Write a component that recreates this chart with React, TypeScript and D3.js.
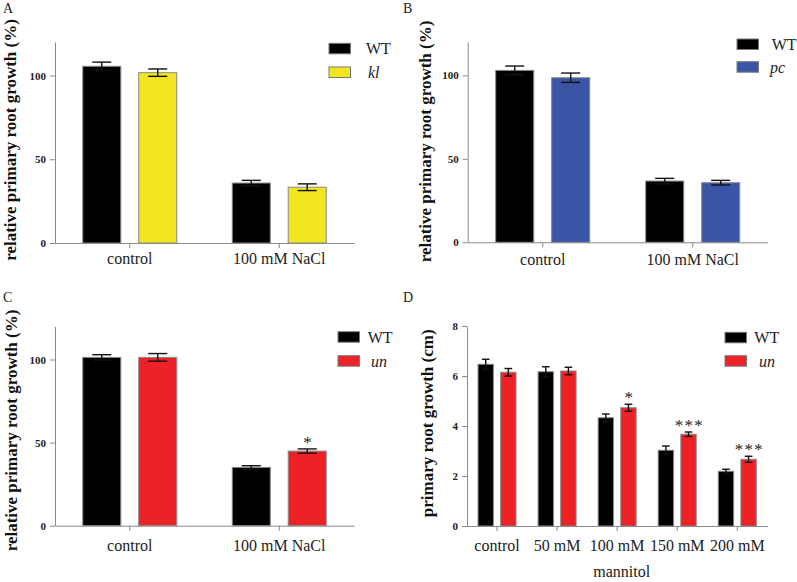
import React, { useEffect, useRef } from "react";
import * as d3 from "d3";

// ---------- data ----------
const NACL_CATS = ["control", "100 mM NaCl"];
const MANNITOL_CATS = ["control", "50 mM", "100 mM", "150 mM", "200 mM"];
const PCT_TICKS = [0, 50, 100];
const CM_TICKS = [0, 2, 4, 6, 8];

const A_WT = [105.5, 35.8];
const A_WT_ERR = [2.5, 1.6];
const A_KL = [101.7, 33.3];
const A_KL_ERR = [2.2, 2.0];

const B_WT = [103.0, 36.7];
const B_WT_ERR = [2.6, 1.6];
const B_PC = [98.6, 35.7];
const B_PC_ERR = [2.8, 1.4];

const C_WT = [101.3, 35.1];
const C_WT_ERR = [1.6, 1.0];
const C_UN = [101.3, 44.9];
const C_UN_ERR = [2.3, 1.3];
const C_UN_SIG = ["", "*"];

const D_WT = [6.47, 6.17, 4.33, 3.03, 2.19];
const D_WT_ERR = [0.2, 0.2, 0.15, 0.17, 0.08];
const D_UN = [6.15, 6.2, 4.73, 3.67, 2.67];
const D_UN_ERR = [0.15, 0.15, 0.14, 0.09, 0.12];
const D_UN_SIG = ["", "", "*", "***", "***"];

const BLACK = "#000000";
const YELLOW = "#F2E71E";
const BLUE = "#3A55A5";
const RED = "#EC2227";
const FONT = "Liberation Serif, Tinos, Times New Roman, DejaVu Serif, serif";

type Series = { name: string; italic?: boolean; values: number[]; err: number[]; color: string; sig?: string[] };
type Panel = {
  letter: string; letterX: number; letterY: number;
  cats: string[]; series: Series[]; ymax: number; ticks: number[];
  left: number; right: number; top: number; bottom: number; half: number;
  ylabel: string; ylabelX: number; ylabelY: number;
  catPad: number; xtitle?: string; xtitleX?: number; xtitleY?: number;
  legX: number; legY: number[]; legTextX: number[];
};

const PANELS: Panel[] = [
  {
    letter: "A", letterX: 3, letterY: 13.3,
    cats: NACL_CATS,
    series: [
      { name: "WT", values: A_WT, err: A_WT_ERR, color: BLACK },
      { name: "kl", italic: true, values: A_KL, err: A_KL_ERR, color: YELLOW },
    ],
    ymax: 120, ticks: PCT_TICKS,
    left: 55, right: 354, top: 42, bottom: 243, half: 47,
    ylabel: "relative primary root growth (%)", ylabelX: 16, ylabelY: 140,
    catPad: 5,
    legX: 329, legY: [43.3, 67], legTextX: [366, 368],
  },
  {
    letter: "B", letterX: 403, letterY: 13.3,
    cats: NACL_CATS,
    series: [
      { name: "WT", values: B_WT, err: B_WT_ERR, color: BLACK },
      { name: "pc", italic: true, values: B_PC, err: B_PC_ERR, color: BLUE },
    ],
    ymax: 120, ticks: PCT_TICKS,
    left: 467.7, right: 767.7, top: 42, bottom: 242.3, half: 47,
    ylabel: "relative primary root growth (%)", ylabelX: 431, ylabelY: 141.5,
    catPad: 6,
    legX: 737, legY: [39, 61.7], legTextX: [771.7, 770],
  },
  {
    letter: "C", letterX: 3, letterY: 301.5,
    cats: NACL_CATS,
    series: [
      { name: "WT", values: C_WT, err: C_WT_ERR, color: BLACK },
      { name: "un", italic: true, values: C_UN, err: C_UN_ERR, color: RED, sig: C_UN_SIG },
    ],
    ymax: 120, ticks: PCT_TICKS,
    left: 55, right: 354, top: 326.3, bottom: 525.7, half: 47,
    ylabel: "relative primary root growth (%)", ylabelX: 17, ylabelY: 430.5,
    catPad: 9,
    legX: 338, legY: [331.7, 355.7], legTextX: [367.7, 371],
  },
  {
    letter: "D", letterX: 403, letterY: 301.5,
    cats: MANNITOL_CATS,
    series: [
      { name: "WT", values: D_WT, err: D_WT_ERR, color: BLACK },
      { name: "un", italic: true, values: D_UN, err: D_UN_ERR, color: RED, sig: D_UN_SIG },
    ],
    ymax: 8, ticks: CM_TICKS,
    left: 467, right: 767.3, top: 326, bottom: 526, half: 19,
    ylabel: "primary root growth (cm)", ylabelX: 433, ylabelY: 423.3,
    catPad: 9, xtitle: "mannitol", xtitleX: 621.7, xtitleY: 576.7,
    legX: 725, legY: [332.3, 355.7], legTextX: [754.3, 759],
  },
];

function drawPanel(svg: d3.Selection<SVGSVGElement, unknown, null, undefined>, p: Panel) {
  const g = svg.append("g");
  const y = d3.scaleLinear().domain([0, p.ymax]).range([p.bottom, p.top]);
  const x0 = d3.scaleBand<string>().domain(p.cats).range([p.left, p.right]).padding(0);
  const x1 = d3
    .scaleBand<string>()
    .domain(p.series.map((s) => s.name))
    .range([-p.half, p.half])
    .paddingInner(0.32);
  const bw = x1.bandwidth();

  // bars
  p.series.forEach((s) => {
    const bars = g.append("g");
    bars
      .selectAll("rect")
      .data(p.cats)
      .join("rect")
      .attr("x", (c) => x0(c)! + x0.bandwidth() / 2 + x1(s.name)!)
      .attr("y", (_c, i) => y(s.values[i]))
      .attr("width", bw)
      .attr("height", (_c, i) => y(0) - y(s.values[i]))
      .attr("fill", s.color)
      .attr("stroke", "#8a8a8a")
      .attr("stroke-width", 1);
  });

  // error bars
  p.series.forEach((s) => {
    const eg = g.append("g").attr("stroke", "#111").attr("stroke-width", 1.4).attr("fill", "none");
    p.cats.forEach((c, i) => {
      const cx = x0(c)! + x0.bandwidth() / 2 + x1(s.name)! + bw / 2;
      const hi = y(s.values[i] + s.err[i]);
      const lo = y(s.values[i] - s.err[i]);
      const cw = bw / 4;
      eg.append("line").attr("x1", cx).attr("x2", cx).attr("y1", hi).attr("y2", lo);
      eg.append("line").attr("x1", cx - cw).attr("x2", cx + cw).attr("y1", hi).attr("y2", hi);
      eg.append("line").attr("x1", cx - cw).attr("x2", cx + cw).attr("y1", lo).attr("y2", lo);
      if (s.sig && s.sig[i]) {
        g.append("text")
          .attr("x", cx + 0.8)
          .attr("y", hi - 1)
          .attr("text-anchor", "middle")
          .attr("font-family", FONT)
          .attr("font-size", 17)
          .attr("letter-spacing", 1.2)
          .attr("fill", "#222")
          .text(s.sig[i]);
      }
    });
  });

  // y axis
  const ya = g
    .append("g")
    .attr("transform", `translate(${p.left},0)`)
    .call(d3.axisLeft(y).tickValues(p.ticks).tickSize(5).tickPadding(4).tickSizeOuter(0));
  ya.attr("font-family", FONT);
  ya.select(".domain").attr("stroke", "#8a8a8a");
  ya.selectAll(".tick line").attr("stroke", "#8a8a8a");
  ya.selectAll(".tick text")
    .attr("font-family", FONT)
    .attr("font-size", 11)
    .attr("font-weight", "bold")
    .attr("fill", "#222");

  // x axis
  const xa = g
    .append("g")
    .attr("transform", `translate(0,${p.bottom})`)
    .call(d3.axisBottom(x0).tickSize(5).tickPadding(p.catPad).tickSizeOuter(0));
  xa.attr("font-family", FONT);
  xa.select(".domain").attr("stroke", "#8a8a8a");
  xa.selectAll(".tick line").attr("stroke", "#8a8a8a");
  xa.selectAll(".tick text")
    .attr("font-family", FONT)
    .attr("font-size", 16)
    .attr("fill", "#222");

  // y label
  g.append("text")
    .attr("transform", `translate(${p.ylabelX},${p.ylabelY}) rotate(-90)`)
    .attr("text-anchor", "middle")
    .attr("font-family", FONT)
    .attr("font-size", 17)
    .attr("font-weight", "bold")
    .attr("fill", "#111")
    .text(p.ylabel);

  if (p.xtitle) {
    g.append("text")
      .attr("x", p.xtitleX!)
      .attr("y", p.xtitleY!)
      .attr("text-anchor", "middle")
      .attr("font-family", FONT)
      .attr("font-size", 16)
      .attr("fill", "#222")
      .text(p.xtitle);
  }

  // panel letter
  g.append("text")
    .attr("x", p.letterX)
    .attr("y", p.letterY)
    .attr("font-family", FONT)
    .attr("font-size", 14)
    .attr("fill", "#222")
    .text(p.letter);

  // legend
  p.series.forEach((s, i) => {
    g.append("rect")
      .attr("x", p.legX)
      .attr("y", p.legY[i])
      .attr("width", 21.5)
      .attr("height", 10.5)
      .attr("fill", s.color)
      .attr("stroke", "#7a7a7a")
      .attr("stroke-width", 1);
    g.append("text")
      .attr("x", p.legTextX[i])
      .attr("y", p.legY[i] + 10.8)
      .attr("font-family", FONT)
      .attr("font-size", 16)
      .attr("font-style", s.italic ? "italic" : "normal")
      .attr("fill", "#222")
      .text(s.name);
  });
}

export default function App() {
  const ref = useRef<SVGSVGElement>(null);
  useEffect(() => {
    if (!ref.current) return;
    const svg = d3.select(ref.current);
    svg.selectAll("*").remove();
    PANELS.forEach((p) => drawPanel(svg, p));
  }, []);
  return (
    <svg
      ref={ref}
      width={797}
      height={582}
      style={{ position: "absolute", left: 0, top: 0, background: "#fff" }}
    />
  );
}
